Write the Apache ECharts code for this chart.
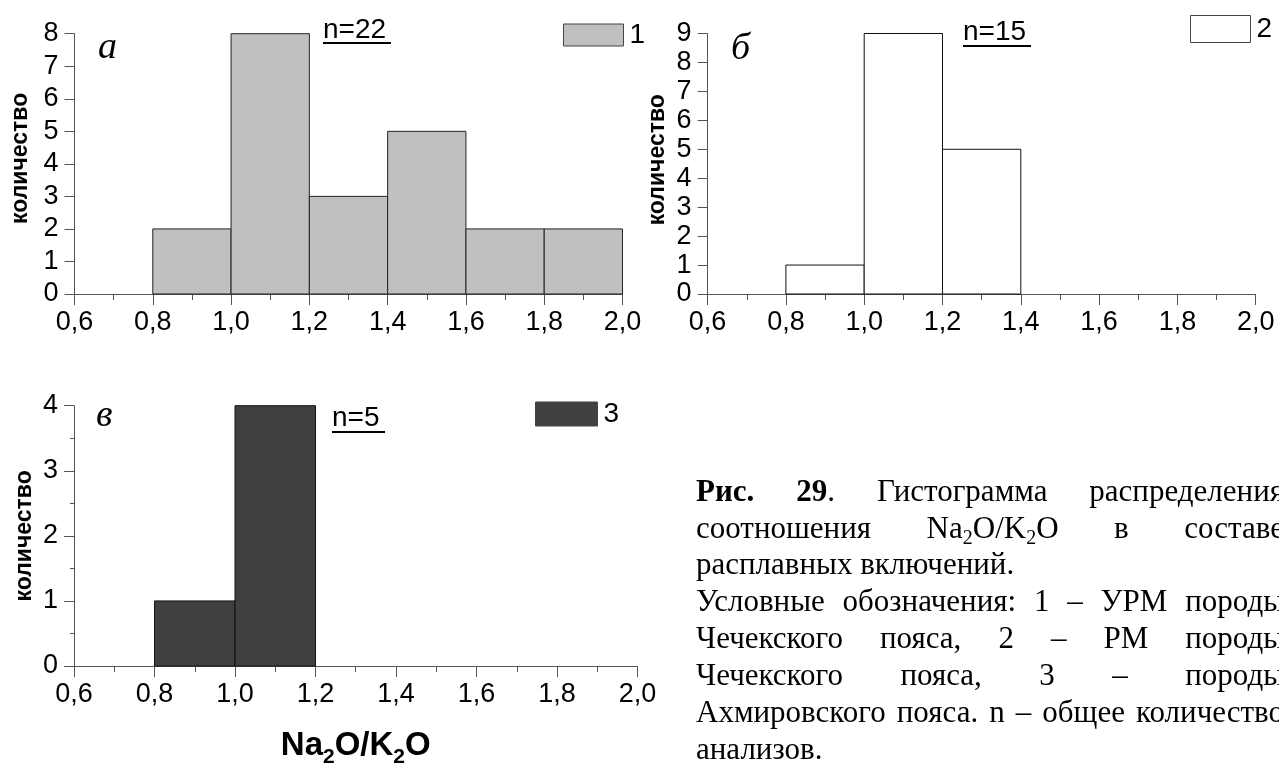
<!DOCTYPE html>
<html><head><meta charset="utf-8">
<script src="https://cdn.jsdelivr.net/npm/echarts@6/dist/echarts.min.js"></script>
<style>html,body{margin:0;padding:0;background:#fff}#c{width:1279px;height:769px}</style>
</head><body><div id="c"></div>
<script>
// ---------------- data ----------------
const binLo = [0.8, 1.0, 1.2, 1.4, 1.6, 1.8];
const binHi = [1.0, 1.2, 1.4, 1.6, 1.8, 2.0];
const countsA = [2, 8, 3, 5, 2, 2];   // panel а, n=22
const countsB = [1, 9, 5];            // panel б, n=15
const countsC = [1, 4];               // panel в, n=5
const xTickValues = [0.6, 0.8, 1.0, 1.2, 1.4, 1.6, 1.8, 2.0];
const xTickLabels = ['0,6', '0,8', '1,0', '1,2', '1,4', '1,6', '1,8', '2,0'];
const yMaxes = [8, 9, 4];
const panelLetters = ['а', 'б', 'в'];
const sampleSizes = ['n=22', 'n=15', 'n=5'];
const legendNames = ['1', '2', '3'];
const yTitle = 'количество';
const captionLines = [
  [[['Рис.', 'b']], [['29', 'b'], ['.', 'n']], [['Гистограмма', 'n']], [['распределения', 'n']]],
  [[['соотношения', 'n']], [['Na', 'n'], ['2', 's'], ['O/K', 'n'], ['2', 's'], ['O', 'n']], [['в', 'n']], [['составе', 'n']]],
  [[['расплавных', 'n']], [['включений.', 'n']]],
  [[['Условные', 'n']], [['обозначения:', 'n']], [['1', 'n']], [['–', 'n']], [['УРМ', 'n']], [['породы', 'n']]],
  [[['Чечекского', 'n']], [['пояса,', 'n']], [['2', 'n']], [['–', 'n']], [['РМ', 'n']], [['породы', 'n']]],
  [[['Чечекского', 'n']], [['пояса,', 'n']], [['3', 'n']], [['–', 'n']], [['породы', 'n']]],
  [[['Ахмировского', 'n']], [['пояса.', 'n']], [['n', 'n']], [['–', 'n']], [['общее', 'n']], [['количество', 'n']]],
  [[['анализов.', 'n']]]
];
const captionJustify = [true, true, false, true, true, true, true, false];

// ---------------- style ----------------
const SANS = '"Liberation Sans", Arial, sans-serif';
const SERIF = '"Liberation Serif", "Times New Roman", serif';
const AX = '#555';
const fills = ['#c0c0c0', '#ffffff', '#404040'];
const strokes = ['#222', '#111', '#111'];
const grids = [
  {left: 74.5, top: 33.7, width: 548, height: 260.3},
  {left: 707.6, top: 33.5, width: 548.1, height: 260.5},
  {left: 74, top: 405.7, width: 563.5, height: 268}
];
const nameGaps = [42, 38, 38];
const namePads = [[0, 0, 0, 11], [0, 0, 0, 8], [0, 0, 0, 0]];

function fmtX(v) {
  const i = xTickValues.findIndex(t => Math.abs(t - v) < 1e-6);
  return i >= 0 ? xTickLabels[i] : '';
}

const xAxes = grids.map((g, i) => ({
  type: 'value', gridIndex: i, min: 0.6, max: 2.0, interval: 0.2,
  axisLine: {show: true, onZero: false, lineStyle: {color: AX, width: 1}},
  axisTick: {show: true, length: 11, lineStyle: {color: AX}},
  minorTick: {show: true, splitNumber: 2, length: 6, lineStyle: {color: AX}},
  splitLine: {show: false},
  axisLabel: {margin: 15, fontSize: 27, fontFamily: SANS, color: '#000', formatter: fmtX},
  name: i === 2 ? '{r|Na}{s|2}{r|O/K}{s|2}{r|O}' : '',
  nameLocation: 'middle', nameGap: 58,
  nameTextStyle: {
    rich: {
      r: {fontSize: 33, fontWeight: 'bold', fontFamily: SANS, color: '#000', lineHeight: 44, verticalAlign: 'middle'},
      s: {fontSize: 21, fontWeight: 'bold', fontFamily: SANS, color: '#000', lineHeight: 44, verticalAlign: 'bottom'}
    }
  }
}));

const yAxes = grids.map((g, i) => ({
  type: 'value', gridIndex: i, min: 0, max: yMaxes[i], interval: 1,
  axisLine: {show: true, onZero: false, lineStyle: {color: AX, width: 1}},
  axisTick: {show: true, length: 10, lineStyle: {color: AX}},
  minorTick: {show: i === 2, splitNumber: 2, length: 4, lineStyle: {color: AX}},
  splitLine: {show: false},
  axisLabel: {margin: 16, fontSize: 27, fontFamily: SANS, color: '#000'},
  name: yTitle, nameLocation: 'middle', nameGap: nameGaps[i],
  nameTextStyle: {fontSize: 23, fontWeight: 'bold', fontFamily: SANS, color: '#000', padding: namePads[i]}
}));

function histSeries(counts, idx) {
  return {
    type: 'custom', name: legendNames[idx], xAxisIndex: idx, yAxisIndex: idx,
    data: counts.map((c, i) => [binLo[i], binHi[i], c]),
    encode: {x: [0, 1], y: 2},
    itemStyle: {color: fills[idx], borderColor: strokes[idx], borderWidth: 1},
    renderItem: function (params, api) {
      const p0 = api.coord([api.value(0), api.value(2)]);
      const p1 = api.coord([api.value(1), 0]);
      return {
        type: 'rect',
        shape: {x: p0[0], y: p0[1], width: p1[0] - p0[0], height: p1[1] - p0[1]},
        style: {fill: fills[idx], stroke: strokes[idx], lineWidth: 1}
      };
    }
  };
}

const legendPos = [
  {left: 563, top: 21, w: 60, h: 22},
  {left: 1190, top: 15, w: 60, h: 27},
  {left: 535, top: 400, w: 62, h: 24}
];
const legends = legendPos.map((p, i) => ({
  left: p.left, top: p.top, padding: 0, itemWidth: p.w, itemHeight: p.h, orient: 'horizontal',
  selectedMode: false,
  data: [{name: legendNames[i], icon: 'rect', itemStyle: {color: fills[i], borderColor: '#444', borderWidth: 1}}],
  textStyle: {fontSize: 28, fontFamily: SANS, color: '#000', lineHeight: p.h, padding: [0, 0, 0, 1]}
}));

// ---------------- annotations ----------------
const graphics = [];
const letterPos = [[98, 48], [731, 49], [96, 416]];
letterPos.forEach((p, i) => graphics.push({
  type: 'text', x: p[0], y: p[1],
  style: {text: panelLetters[i], font: 'italic 38px ' + SERIF, fill: '#000', textAlign: 'left', align: 'left', textVerticalAlign: 'middle', verticalAlign: 'middle'}
}));
const nPos = [[323, 30, 391, 43], [963, 32, 1031, 46], [332, 418, 385, 432]];
nPos.forEach((p, i) => {
  graphics.push({
    type: 'text', x: p[0], y: p[1],
    style: {text: sampleSizes[i], font: '28px ' + SANS, fill: '#000', textAlign: 'left', align: 'left', textVerticalAlign: 'middle', verticalAlign: 'middle'}
  });
  graphics.push({type: 'line', shape: {x1: p[0], y1: p[3], x2: p[2], y2: p[3]}, style: {stroke: '#000', lineWidth: 2}});
});

// caption (justified block that runs off the right edge like the source)
const CAP_L = 696, CAP_R = 1284, CAP_MID0 = 492.5, CAP_STEP = 36.9, CAP_SIZE = 31, SUB_SIZE = 20;
const mctx = document.createElement('canvas').getContext('2d');
function runFont(kind) {
  if (kind === 'b') return 'bold ' + CAP_SIZE + 'px ' + SERIF;
  if (kind === 's') return SUB_SIZE + 'px ' + SERIF;
  return CAP_SIZE + 'px ' + SERIF;
}
function runWidth(r) { mctx.font = runFont(r[1]); return mctx.measureText(r[0]).width; }
function wordWidth(w) { return w.reduce((s, r) => s + runWidth(r), 0); }
mctx.font = runFont('n');
const spaceW = mctx.measureText(' ').width;
captionLines.forEach((words, li) => {
  const mid = CAP_MID0 + li * CAP_STEP;
  const widths = words.map(wordWidth);
  const total = widths.reduce((a, b) => a + b, 0);
  const gap = (captionJustify[li] && words.length > 1) ? (CAP_R - CAP_L - total) / (words.length - 1) : spaceW;
  let x = CAP_L;
  words.forEach((w, wi) => {
    let rx = x;
    w.forEach(r => {
      const isSub = r[1] === 's';
      graphics.push({
        type: 'text', x: rx, y: isSub ? mid + 9 : mid,
        style: {text: r[0], font: runFont(r[1]), fill: '#000', textAlign: 'left', align: 'left',
          textVerticalAlign: 'middle', verticalAlign: 'middle'}
      });
      rx += runWidth(r);
    });
    x += widths[wi] + gap;
  });
});

const chart = echarts.init(document.getElementById('c'), null, {renderer: 'canvas'});
chart.setOption({
  animation: false,
  backgroundColor: '#fff',
  grid: grids.map(g => Object.assign({containLabel: false}, g)),
  xAxis: xAxes,
  yAxis: yAxes,
  legend: legends,
  series: [histSeries(countsA, 0), histSeries(countsB, 1), histSeries(countsC, 2)],
  graphic: graphics
});
</script></body></html>
